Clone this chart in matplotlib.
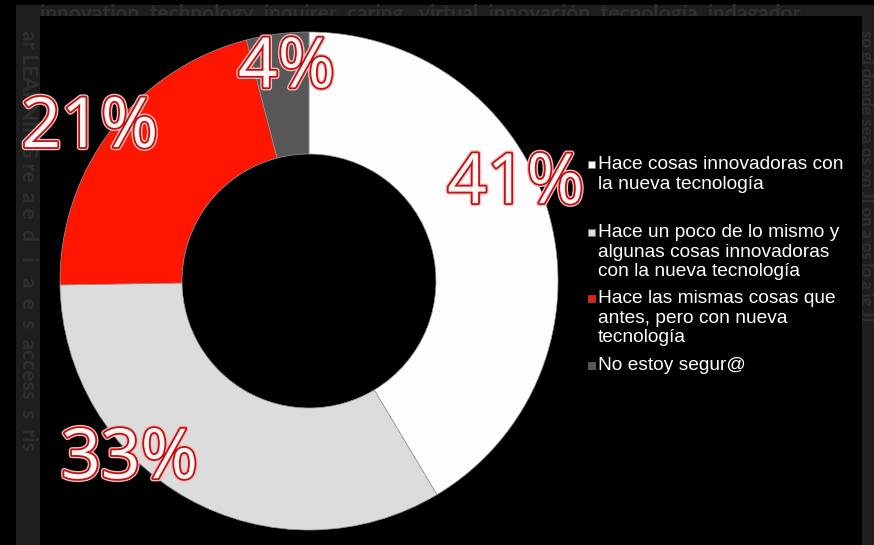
import matplotlib.pyplot as plt
import matplotlib.patheffects as pe
from matplotlib.patches import Rectangle

# survey answers
labels = [
    'Hace cosas innovadoras con\nla nueva tecnología',
    'Hace un poco de lo mismo y\nalgunas cosas innovadoras\ncon la nueva tecnología',
    'Hace las mismas cosas que\nantes, pero con nueva\ntecnología',
    'No estoy segur@',
]
values = [41, 33, 21, 4]
colors = ['#fdfdfd', '#dcdcdc', '#ff1600', '#575757']

# where the big percentage labels sit (axes data units, radius = 1)
label_pos = [(0.83, 0.385), (-0.72, -0.72), (-0.88, 0.61), (-0.09, 0.85)]

W, H = 874, 545
fig = plt.figure(figsize=(W / 100, H / 100), dpi=100, facecolor='black')

# grey frame with faint word cloud behind the black panel
fig.add_artist(Rectangle((16 / W, 0), 1 - 16 / W, 1 - 5 / H, transform=fig.transFigure,
                         facecolor='#1e1e1e', edgecolor='none', zorder=0))
faint = dict(color='#2f2f2f', fontfamily='Lato', fontweight='bold', zorder=1)
fig.text(40 / W, 1 - 14 / H, 'innovation  technology  inquirer  caring   virtual  innovación  tecnología  indagador',
         fontsize=15, va='center', ha='left', **faint)
fig.text(28 / W, 1 - 30 / H, 'ar LEARNING re  a e  d   i   a  e  s  access  s  ris',
         fontsize=15, rotation=-90, va='top', ha='center', **faint)
fig.text(866 / W, 1 - 30 / H, 'so gi donde sea os on JI on a os lo a ig JI',
         fontsize=12, rotation=-90, va='top', ha='center', **faint)
fig.add_artist(Rectangle((40 / W, 0), 822 / W, 1 - 16 / H, transform=fig.transFigure,
                         facecolor='black', edgecolor='none', zorder=2))

# donut chart
cx, cy, r = 309, 281, 249
ax = fig.add_axes([(cx - r) / W, (H - cy - r) / H, 2 * r / W, 2 * r / H])
ax.set_zorder(3)
ax.patch.set_alpha(0)
ax.pie(values, colors=colors, startangle=90, counterclock=False, radius=1,
       wedgeprops=dict(width=0.49, edgecolor='#9a9a9a', linewidth=0.5))
ax.set_xlim(-1, 1)
ax.set_ylim(-1, 1)
ax.axis('off')

for v, (x, y) in zip(values, label_pos):
    ax.text(x, y, f'{v}%', ha='center', va='center', fontsize=50,
            fontfamily='Open Sans', color='#fff6f6', clip_on=False,
            path_effects=[pe.withStroke(linewidth=4.5, foreground='#f0c0c0'),
                          pe.withStroke(linewidth=2.6, foreground='#c01010')])

# legend block on the right
tops = [156, 224, 290, 357]
for lab, col, t in zip(labels, colors, tops):
    fig.add_artist(Rectangle((588 / W, 1 - (t + 12) / H), 7 / W, 7 / H,
                             transform=fig.transFigure, facecolor=col,
                             edgecolor='#777777', linewidth=0.4, zorder=4))
    fig.text(598 / W, 1 - t / H, lab, fontsize=13.8, fontfamily='Liberation Sans',
             color='white', va='top', ha='left', linespacing=1.2, zorder=4)

fig.savefig('out.png', dpi=100, facecolor='black')
